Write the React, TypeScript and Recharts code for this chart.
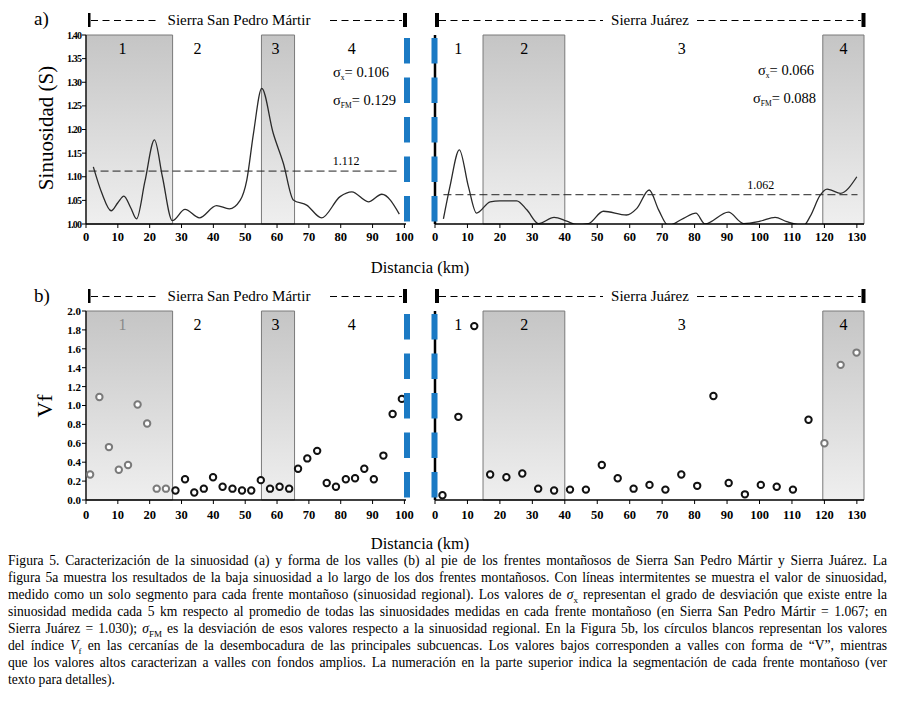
import React from "react";
import {
  ComposedChart,
  Line,
  Scatter,
  XAxis,
  YAxis,
  ReferenceArea,
  ReferenceLine,
  ReferenceDot,
} from "recharts";

const FONT = "Liberation Serif, Tinos, DejaVu Serif, serif";

// ---- Sierra San Pedro Mártir ----
const spmSinKm = [2.3, 5, 7.9, 10, 11.9, 14, 15.9, 18.5, 21.5, 24, 27.1, 31.1, 35.6, 41, 45, 48.4, 50.5, 52.6, 55.2, 58.8, 62, 65.1, 69.3, 74, 79.8, 83.5, 88.7, 92.9, 98.4];
const spmSinVal = [1.121, 1.065, 1.028, 1.045, 1.059, 1.035, 1.011, 1.09, 1.178, 1.1, 1.007, 1.031, 1.013, 1.039, 1.032, 1.05, 1.093, 1.192, 1.287, 1.192, 1.128, 1.051, 1.04, 1.013, 1.058, 1.068, 1.047, 1.063, 1.021];
const spmVfKm = [1.3, 4.2, 7.2, 10.3, 13.2, 16.2, 19.2, 22.2, 25.1, 28.1, 31.1, 34.0, 37.0, 39.9, 42.9, 46.0, 49.0, 51.9, 54.9, 57.8, 60.8, 63.8, 66.6, 69.5, 72.6, 75.6, 78.5, 81.6, 84.5, 87.4, 90.4, 93.4, 96.3, 99.2];
const spmVfVal = [0.27, 1.09, 0.56, 0.32, 0.37, 1.01, 0.81, 0.12, 0.12, 0.1, 0.22, 0.08, 0.12, 0.24, 0.14, 0.12, 0.1, 0.1, 0.21, 0.12, 0.14, 0.12, 0.33, 0.44, 0.52, 0.18, 0.14, 0.22, 0.23, 0.33, 0.22, 0.47, 0.91, 1.07];
const spmBounds = [0, 27.2, 55.1, 65.5, 100.5];
const spmShaded = [true, false, true, false];
const spmLabelKm = [11.5, 35, 59.5, 83.5];
const spmRegional = 1.112;
const spmRegionalSpan = [0.8, 98.6];
const spmRegionalLabelKm = 81.7;

// ---- Sierra Juárez ----
const sjSinKm = [2.6, 4.6, 7.5, 10.3, 12.8, 17, 20, 25.2, 28.3, 31.9, 36.7, 40.6, 43.7, 47.3, 51.9, 59, 62.2, 66, 68.9, 71.9, 76.6, 80.4, 83.2, 90.4, 95.1, 100.2, 104.8, 108.4, 113.6, 115.6, 118.7, 120.8, 122.3, 124.9, 130];
const sjSinVal = [1.011, 1.079, 1.157, 1.079, 1.023, 1.047, 1.049, 1.049, 1.03, 1.001, 1.014, 1.006, 0.999, 1.001, 1.027, 1.019, 1.033, 1.072, 1.03, 0.997, 1.012, 1.023, 1.0, 1.025, 1.001, 1.006, 1.014, 1.005, 0.997, 1.016, 1.061, 1.074, 1.071, 1.065, 1.1];
const sjVfKm = [2.3, 7.2, 12.1, 17.0, 22.0, 26.9, 31.8, 36.7, 41.6, 46.5, 51.4, 56.3, 61.2, 66.1, 71.0, 75.9, 80.8, 85.8, 90.5, 95.5, 100.4, 105.3, 110.3, 115.1, 120.0, 125.0, 129.9];
const sjVfVal = [0.05, 0.88, 1.84, 0.27, 0.24, 0.28, 0.12, 0.1, 0.11, 0.11, 0.37, 0.23, 0.12, 0.16, 0.11, 0.27, 0.15, 1.1, 0.18, 0.06, 0.16, 0.14, 0.11, 0.85, 0.6, 1.43, 1.56];
const sjBounds = [0, 14.8, 40, 119.5, 132.2];
const sjShaded = [false, true, false, true];
const sjLabelKm = [7.2, 27.5, 76, 125.9];
const sjRegional = 1.062;
const sjRegionalSpan = [2.6, 130.2];
const sjRegionalLabelKm = 100.4;

const segNames = ["1", "2", "3", "4"];
const spmKmTicks = [0, 10, 20, 30, 40, 50, 60, 70, 80, 90, 100];
const sjKmTicks = [0, 10, 20, 30, 40, 50, 60, 70, 80, 90, 100, 110, 120, 130];
const sinTicks = [1.0, 1.05, 1.1, 1.15, 1.2, 1.25, 1.3, 1.35, 1.4];
const vfTicks = [0, 0.2, 0.4, 0.6, 0.8, 1.0, 1.2, 1.4, 1.6, 1.8, 2.0];

const captionLines = [
  "Figura 5. Caracterización de la sinuosidad (a) y forma de los valles (b) al pie de los frentes montañosos de Sierra San Pedro Mártir y Sierra Juárez. La",
  "figura 5a muestra los resultados de la baja sinuosidad a lo largo de los dos frentes montañosos. Con líneas intermitentes se muestra el valor de sinuosidad,",
];

const zip = (km: number[], v: number[]) => km.map((k, i) => ({ km: k, v: v[i] }));

type Box = { x: number; y: number; w: number; h: number };
type PanelProps = {
  box: Box;
  plot: Box;
  xMax: number;
  xTicks: number[];
  kind: "sin" | "vf";
  bounds: number[];
  shaded: boolean[];
  labelKm: number[];
  rows: { km: number; v: number }[];
  muteSeg: number;
  muteLabel?: boolean;
  left: boolean;
  regional?: { value: number; span: number[]; labelKm: number };
  gid: string;
};

function Panel(p: PanelProps) {
  const yW = p.left ? 40 : 10;
  const xH = 30;
  const margin = {
    top: p.plot.y - p.box.y,
    left: p.plot.x - p.box.x - yW,
    right: p.box.x + p.box.w - p.plot.x - p.plot.w,
    bottom: p.box.y + p.box.h - p.plot.y - p.plot.h - xH,
  };
  const yDomain = p.kind === "sin" ? [1, 1.4] : [0, 2];
  const yTicks = p.kind === "sin" ? sinTicks : vfTicks;
  const lo = p.bounds[p.muteSeg];
  const hi = p.bounds[p.muteSeg + 1];
  const yTick = p.left
    ? p.kind === "sin"
      ? { fill: "#000", fontSize: 10, fontWeight: 700, fontFamily: FONT, letterSpacing: -0.9 }
      : { fill: "#000", fontSize: 11, fontWeight: 700, fontFamily: FONT }
    : false;

  return (
    <div style={{ position: "absolute", left: p.box.x, top: p.box.y }}>
      <ComposedChart width={p.box.w} height={p.box.h} data={p.rows} margin={margin}>
        <defs>
          <linearGradient id={p.gid} x1="0" y1="0" x2="0" y2="1">
            <stop offset="0%" stopColor="#c5c5c5" />
            <stop offset="100%" stopColor="#efefef" />
          </linearGradient>
        </defs>
        {p.bounds.slice(0, -1).map((b, i) =>
          p.shaded[i] ? (
            <ReferenceArea
              key={"a" + i}
              x1={b}
              x2={p.bounds[i + 1]}
              y1={yDomain[0]}
              y2={yDomain[1]}
              fill={`url(#${p.gid})`}
              fillOpacity={1}
              stroke="#7a7a7a"
              strokeWidth={1}
            />
          ) : null
        )}
        <XAxis
          dataKey="km"
          type="number"
          domain={[0, p.xMax]}
          ticks={p.xTicks}
          interval={0}
          allowDataOverflow
          height={xH}
          axisLine={{ stroke: "#000", strokeWidth: 1.5 }}
          tickLine={{ stroke: "#000" }}
          tickSize={4}
          tickMargin={p.kind === "sin" ? 4 : 6}
          tick={{ fill: "#000", fontSize: 12.5, fontWeight: 700, fontFamily: FONT }}
        />
        <XAxis
          xAxisId="top"
          orientation="top"
          dataKey="km"
          type="number"
          domain={[0, p.xMax]}
          allowDataOverflow
          height={0}
          tick={false}
          tickLine={false}
          axisLine={{ stroke: "#7a7a7a" }}
        />
        <YAxis
          type="number"
          domain={yDomain}
          ticks={yTicks}
          interval={0}
          allowDataOverflow
          width={yW}
          axisLine={{ stroke: "#000", strokeWidth: p.left ? 1.2 : 2.5 }}
          tickLine={{ stroke: "#000" }}
          tickSize={4}
          tickMargin={1}
          tick={yTick}
          tickFormatter={(v: number) => v.toFixed(p.kind === "sin" ? 2 : 1)}
        />
        <YAxis
          yAxisId="r"
          orientation="right"
          type="number"
          domain={yDomain}
          allowDataOverflow
          width={0}
          tick={false}
          tickLine={false}
          axisLine={{ stroke: "#7a7a7a" }}
        />
        {p.regional && (
          <ReferenceLine
            segment={[
              { x: p.regional.span[0], y: p.regional.value },
              { x: p.regional.span[1], y: p.regional.value },
            ]}
            stroke="#222"
            strokeWidth={1}
            strokeDasharray="8 4"
          />
        )}
        {p.regional && (
          <ReferenceDot
            x={p.regional.labelKm}
            y={p.regional.value}
            r={0}
            shape={(d: any) => (
              <text x={d.cx} y={d.cy - 6} textAnchor="middle" fontSize={12} fontFamily={FONT} fill="#000">
                {p.regional!.value.toFixed(3)}
              </text>
            )}
          />
        )}
        {p.labelKm.map((k, i) => (
          <ReferenceDot
            key={"l" + i}
            x={k}
            y={yDomain[1]}
            r={0}
            shape={(d: any) => (
              <text
                x={d.cx}
                y={d.cy + 18.5}
                textAnchor="middle"
                fontSize={16}
                fontFamily={FONT}
                fill={p.muteLabel && i === p.muteSeg ? "#8a8a8a" : "#000"}
              >
                {segNames[i]}
              </text>
            )}
          />
        ))}
        {p.kind === "sin" && (
          <Line
            dataKey="v"
            type="monotone"
            stroke="#2a2a2a"
            strokeWidth={1.3}
            dot={false}
            activeDot={false}
            isAnimationActive={false}
          />
        )}
        {p.kind === "vf" && (
          <Scatter
            dataKey="v"
            isAnimationActive={false}
            shape={(s: any) => {
              const m = s.payload.km >= lo && s.payload.km <= hi;
              return (
                <circle cx={s.cx} cy={s.cy} r={3.2} fill="#fff" stroke={m ? "#7a7a7a" : "#111"} strokeWidth={2} />
              );
            }}
          />
        )}
      </ComposedChart>
    </div>
  );
}

function Header({ dy, caps, dashes, label, cx }: { dy: number; caps: number[][]; dashes: number[][]; label: string; cx: number }) {
  return (
    <g>
      {caps.map((c, i) => (
        <rect key={"c" + i} x={c[0]} y={13 + dy} width={c[1]} height={14} fill="#000" />
      ))}
      {dashes.map((d, i) => (
        <line key={"d" + i} x1={d[0]} x2={d[1]} y1={20.5 + dy} y2={20.5 + dy} stroke="#000" strokeWidth={1} strokeDasharray="7 4.5" />
      ))}
      <text x={cx} y={24.5 + dy} textAnchor="middle" fontSize={15} fontFamily={FONT} fill="#000">
        {label}
      </text>
    </g>
  );
}

function Sigma({ x, y, sub, value }: { x: number; y: number; sub: string; value: string }) {
  return (
    <text x={x} y={y} fontSize={14.5} fontFamily={FONT} fill="#000">
      <tspan>σ</tspan>
      <tspan fontSize={7.5} dy={3}>{sub}</tspan>
      <tspan dy={-3}>{"= " + value}</tspan>
    </text>
  );
}

function Overlay() {
  const blue = "#1b7ac4";
  return (
    <svg width={903} height={707} style={{ position: "absolute", left: 0, top: 0, pointerEvents: "none" }}>
      <text x={34} y={25} fontSize={19} fontFamily={FONT}>a)</text>
      <text x={34} y={302} fontSize={19} fontFamily={FONT}>b)</text>

      {[0, 276].map((dy) => (
        <g key={dy}>
          <Header dy={dy} caps={[[88, 2.5], [403, 4]]} dashes={[[91, 160], [330, 402]]} label="Sierra San Pedro Mártir" cx={239} />
          <Header dy={dy} caps={[[435, 4], [861.5, 4]]} dashes={[[439, 603], [697, 861]]} label="Sierra Juárez" cx={650} />
          <line x1={407} x2={407} y1={38 + dy} y2={224 + dy} stroke={blue} strokeWidth={6} strokeDasharray="25.5 14" />
          <line x1={434.5} x2={434.5} y1={38 + dy} y2={224 + dy} stroke={blue} strokeWidth={6} strokeDasharray="25.5 14" />
          <text x={420} y={273 + dy} textAnchor="middle" fontSize={16.5} fontFamily={FONT}>Distancia (km)</text>
        </g>
      ))}

      <text transform="translate(53,128) rotate(-90)" textAnchor="middle" fontSize={21} fontFamily={FONT}>Sinuosidad (S)</text>
      <text transform="translate(52,406) rotate(-90)" textAnchor="middle" fontSize={22} fontFamily={FONT}>Vf</text>

      <Sigma x={333} y={77} sub="x" value="0.106" />
      <Sigma x={333} y={105} sub="FM" value="0.129" />
      <Sigma x={758} y={75} sub="x" value="0.066" />
      <Sigma x={753} y={103} sub="FM" value="0.088" />
    </svg>
  );
}

const sub = (s: string) => <sub style={{ fontSize: 9, lineHeight: 0 }}>{s}</sub>;

function Caption() {
  const line: React.CSSProperties = {
    height: 17,
    lineHeight: "17px",
    textAlign: "justify",
    textAlignLast: "justify",
    whiteSpace: "nowrap",
    overflow: "visible",
  };
  return (
    <div style={{ position: "absolute", left: 8, top: 552, width: 879, fontFamily: FONT, fontSize: 13.6, color: "#000" }}>
      <div style={line}>{captionLines[0]}</div>
      <div style={line}>{captionLines[1]}</div>
      <div style={line}>
        medido como un solo segmento para cada frente montañoso (sinuosidad regional). Los valores de <i>σ</i>{sub("x")} representan el grado de desviación que existe entre la
      </div>
      <div style={line}>
        sinuosidad medida cada 5 km respecto al promedio de todas las sinuosidades medidas en cada frente montañoso (en Sierra San Pedro Mártir = 1.067; en
      </div>
      <div style={line}>
        Sierra Juárez = 1.030); <i>σ</i>{sub("FM")} es la desviación de esos valores respecto a la sinuosidad regional. En la Figura 5b, los círculos blancos representan los valores
      </div>
      <div style={line}>
        del índice <i>V</i>{sub("f")} en las cercanías de la desembocadura de las principales subcuencas. Los valores bajos corresponden a valles con forma de “V”, mientras
      </div>
      <div style={line}>
        que los valores altos caracterizan a valles con fondos amplios. La numeración en la parte superior indica la segmentación de cada frente montañoso (ver
      </div>
      <div style={{ height: 17, lineHeight: "17px" }}>texto para detalles).</div>
    </div>
  );
}

export default function App() {
  const spmSin = zip(spmSinKm, spmSinVal);
  const sjSin = zip(sjSinKm, sjSinVal);
  const spmVf = zip(spmVfKm, spmVfVal);
  const sjVf = zip(sjVfKm, sjVfVal);
  return (
    <div style={{ position: "absolute", left: 0, top: 0, width: 903, height: 707, background: "#fff", fontFamily: FONT }}>
      <Panel
        box={{ x: 0, y: 0, w: 420, h: 262 }}
        plot={{ x: 86, y: 35, w: 320, h: 189 }}
        xMax={100.5}
        xTicks={spmKmTicks}
        kind="sin"
        bounds={spmBounds}
        shaded={spmShaded}
        labelKm={spmLabelKm}
        rows={spmSin}
        muteSeg={0}
        left
        regional={{ value: spmRegional, span: spmRegionalSpan, labelKm: spmRegionalLabelKm }}
        gid="g1"
      />
      <Panel
        box={{ x: 420, y: 0, w: 483, h: 262 }}
        plot={{ x: 435, y: 35, w: 429, h: 189 }}
        xMax={132.2}
        xTicks={sjKmTicks}
        kind="sin"
        bounds={sjBounds}
        shaded={sjShaded}
        labelKm={sjLabelKm}
        rows={sjSin}
        muteSeg={3}
        left={false}
        regional={{ value: sjRegional, span: sjRegionalSpan, labelKm: sjRegionalLabelKm }}
        gid="g2"
      />
      <Panel
        box={{ x: 0, y: 276, w: 420, h: 262 }}
        plot={{ x: 86, y: 311, w: 320, h: 189 }}
        xMax={100.5}
        xTicks={spmKmTicks}
        kind="vf"
        bounds={spmBounds}
        shaded={spmShaded}
        labelKm={spmLabelKm}
        rows={spmVf}
        muteSeg={0}
        muteLabel
        left
        gid="g3"
      />
      <Panel
        box={{ x: 420, y: 276, w: 483, h: 262 }}
        plot={{ x: 435, y: 311, w: 429, h: 189 }}
        xMax={132.2}
        xTicks={sjKmTicks}
        kind="vf"
        bounds={sjBounds}
        shaded={sjShaded}
        labelKm={sjLabelKm}
        rows={sjVf}
        muteSeg={3}
        left={false}
        gid="g4"
      />
      <Overlay />
      <Caption />
    </div>
  );
}
